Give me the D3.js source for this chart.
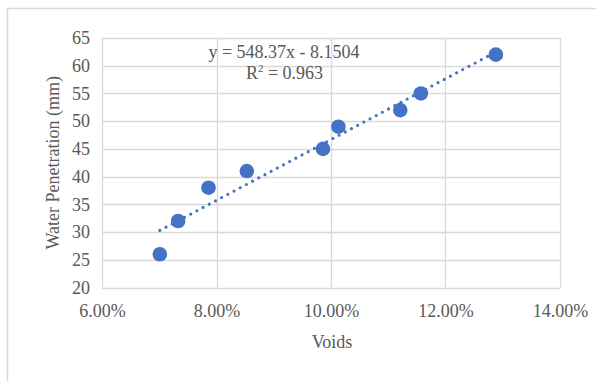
<!DOCTYPE html>
<html>
<head>
<meta charset="utf-8">
<script src="https://cdn.jsdelivr.net/npm/d3@7"></script>
<style>
  html, body { margin: 0; padding: 0; background: #fff; }
  svg { display: block; font-family: "Liberation Serif", "Times New Roman", serif; }
</style>
</head>
<body>
<div id="chart"></div>
<script>
// voids (fraction) vs water penetration (mm)
const voids = [0.0701, 0.0733, 0.0786, 0.0853, 0.0986, 0.1013, 0.1121, 0.1157, 0.1288]
const penetration = [26, 32, 38, 41, 45, 49, 52, 55, 62]

const xTicks = [0.06, 0.08, 0.10, 0.12, 0.14]
const yTicks = [20, 25, 30, 35, 40, 45, 50, 55, 60, 65]

// linear trendline as shown on the chart label
const trendSlope = 548.37
const trendIntercept = -8.1504
const trendLabel = 'y = 548.37x - 8.1504'
const r2Value = '0.963'

const width = 596
const height = 381
const margin = { top: 38, right: 36, bottom: 93.5, left: 102 }
const innerW = width - margin.left - margin.right
const innerH = height - margin.top - margin.bottom

const blue = '#4472c4'
const grid = '#d9d9d9'
const textColor = '#595959'

const svg = d3.select('#chart').append('svg')
  .attr('width', width)
  .attr('height', height)

// outer chart frame (runs off the right and bottom edges)
svg.append('rect')
  .attr('x', 7.5)
  .attr('y', 8.5)
  .attr('width', 620)
  .attr('height', 420)
  .attr('fill', 'none')
  .attr('stroke', grid)
  .attr('stroke-width', 1.5)

const g = svg.append('g')
  .attr('transform', `translate(${margin.left}, ${margin.top})`)

const x = d3.scaleLinear().domain([0.06, 0.14]).range([0, innerW])
const y = d3.scaleLinear().domain([20, 65]).range([innerH, 0])

// gridlines
g.append('g')
  .selectAll('line')
  .data(yTicks)
  .join('line')
  .attr('x1', 0)
  .attr('x2', innerW)
  .attr('y1', d => Math.round(y(d)) + 0.5)
  .attr('y2', d => Math.round(y(d)) + 0.5)
  .attr('stroke', grid)
  .attr('stroke-width', 1.3)

g.append('g')
  .selectAll('line')
  .data(xTicks)
  .join('line')
  .attr('x1', d => Math.round(x(d)) + 0.5)
  .attr('x2', d => Math.round(x(d)) + 0.5)
  .attr('y1', 0)
  .attr('y2', innerH)
  .attr('stroke', grid)
  .attr('stroke-width', 1.3)

// axes (labels only)
const xAxis = g.append('g')
  .attr('transform', `translate(0, ${innerH})`)
  .call(d3.axisBottom(x).tickValues(xTicks).tickFormat(d3.format('.2%')).tickSize(0).tickPadding(0))
xAxis.select('.domain').remove()
xAxis.selectAll('text')
  .attr('y', 29.5)
  .attr('dy', null)
  .attr('fill', textColor)
  .style('font-size', '18px')
  .style('font-family', '"Liberation Serif", serif')

const yAxis = g.append('g')
  .call(d3.axisLeft(y).tickValues(yTicks).tickSize(0).tickPadding(12))
yAxis.select('.domain').remove()
yAxis.selectAll('text')
  .attr('fill', textColor)
  .style('font-size', '18px')
  .style('font-family', '"Liberation Serif", serif')

// trendline
const xExt = d3.extent(voids)
const trend = xExt.map(v => [v, trendSlope * v + trendIntercept])
g.append('path')
  .datum(trend)
  .attr('d', d3.line().x(d => x(d[0])).y(d => y(d[1])))
  .attr('fill', 'none')
  .attr('stroke', blue)
  .attr('stroke-width', 3.2)
  .attr('stroke-linecap', 'round')
  .attr('stroke-dasharray', '0 7')

// points
g.selectAll('circle')
  .data(voids.map((v, i) => [v, penetration[i]]))
  .join('circle')
  .attr('cx', d => x(d[0]))
  .attr('cy', d => y(d[1]))
  .attr('r', 7.3)
  .attr('fill', blue)

// trendline label
const label = svg.append('text')
  .attr('x', 284)
  .attr('y', 57.5)
  .attr('text-anchor', 'middle')
  .attr('fill', textColor)
  .style('font-size', '18px')
  .text(trendLabel)

const r2 = svg.append('text')
  .attr('x', 284.5)
  .attr('y', 78.5)
  .attr('text-anchor', 'middle')
  .attr('fill', textColor)
  .style('font-size', '18px')
r2.append('tspan').text('R')
r2.append('tspan').attr('dy', -7).style('font-size', '11px').text('2')
r2.append('tspan').attr('dy', 7).text(' = ' + r2Value)

// axis titles
svg.append('text')
  .attr('x', margin.left + innerW / 2 + 1)
  .attr('y', 348)
  .attr('text-anchor', 'middle')
  .attr('fill', textColor)
  .style('font-size', '18px')
  .text('Voids')

svg.append('text')
  .attr('transform', `translate(59, ${margin.top + innerH / 2}) rotate(-90)`)
  .attr('text-anchor', 'middle')
  .attr('fill', textColor)
  .style('font-size', '18px')
  .text('Water Penetration (mm)')
</script>
</body>
</html>
